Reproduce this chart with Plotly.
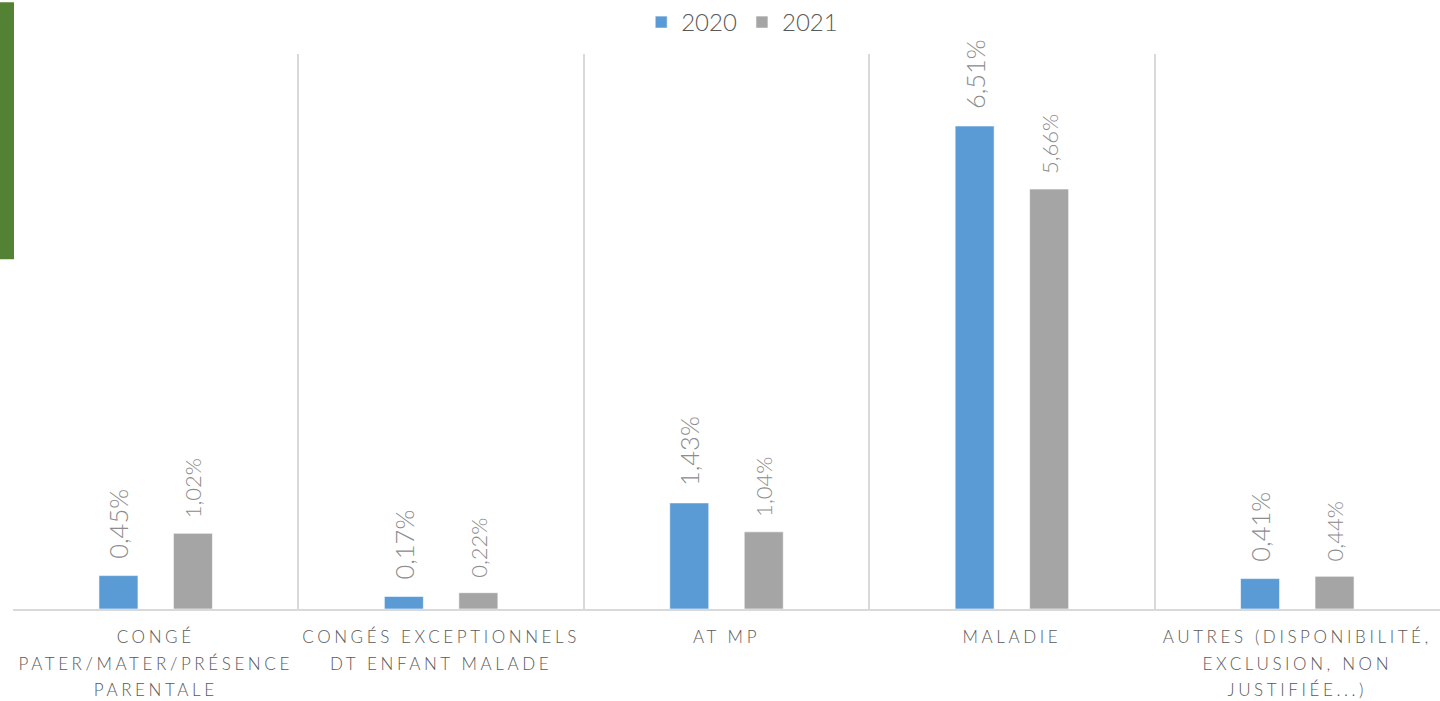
import plotly.graph_objects as go

# Absence categories (multi-line tick labels)
categories = [
    "CONGÉ<br>PATER/MATER/PRÉSENCE<br>PARENTALE",
    "CONGÉS EXCEPTIONNELS<br>DT ENFANT MALADE",
    "AT MP",
    "MALADIE",
    "AUTRES (DISPONIBILITÉ,<br>EXCLUSION, NON<br>JUSTIFIÉE...)",
]
rates_2020 = [0.45, 0.17, 1.43, 6.51, 0.41]
rates_2021 = [1.02, 0.22, 1.04, 5.66, 0.44]
years = ["2020", "2021"]
colors = ["#5B9BD5", "#A5A5A5"]
label_sizes = [25.5, 22]


def fr_pct(v):
    # French decimal comma; leading no-break spaces lift the label off the bar
    return "\u00a0\u00a0" + f"{v:.2f}".replace(".", ",") + "%"


fig = go.Figure()
for name, vals, col, lsize in zip(years, [rates_2020, rates_2021], colors, label_sizes):
    fig.add_trace(go.Bar(
        x=categories,
        y=vals,
        name=name,
        marker=dict(color=col, line=dict(color="white", width=0.6)),
        text=[fr_pct(v) for v in vals],
        textposition="outside",
        textangle=-90,
        constraintext="none",
        cliponaxis=False,
        textfont=dict(family="Lato, sans-serif", size=lsize, color="#8C8C8C", weight=300),
    ))

W, H = 1440, 701
ml, mr, mt, mb = 13, 0, 52, 92
pw = W - ml - mr
ph = H - mt - mb

fig.update_layout(
    width=W,
    height=H,
    margin=dict(l=ml, r=mr, t=mt, b=mb),
    paper_bgcolor="white",
    plot_bgcolor="white",
    barmode="group",
    bargap=0.478,
    bargroupgap=0.476,
    font=dict(family="Lato, sans-serif", color="#595959"),
    showlegend=True,
    legend=dict(
        orientation="h",
        x=0.511,
        xanchor="center",
        y=1 + 32 / ph,
        yanchor="middle",
        font=dict(size=24, color="#595959", weight=300),
        itemwidth=30,
        traceorder="normal",
    ),
    xaxis=dict(
        tickson="boundaries",
        showgrid=True,
        gridcolor="#D9D9D9",
        gridwidth=2,
        showline=True,
        linecolor="#D9D9D9",
        linewidth=2,
        ticks="",
        tickangle=0,
        ticklabelstandoff=12,
        tickfont=dict(size=17, color="#595959", weight=300),
        automargin=False,
    ),
    yaxis=dict(
        range=[0, 7.48],
        visible=False,
        showgrid=False,
        zeroline=False,
        fixedrange=True,
    ),
    shapes=[
        dict(
            type="rect",
            xref="paper",
            yref="paper",
            x0=-ml / pw,
            x1=1 / pw,
            y0=(ph - (258 - mt)) / ph,
            y1=(ph + mt) / ph,
            fillcolor="#548235",
            line=dict(width=0),
            layer="below",
        )
    ],
)

# Spaced-out capitals and looser line spacing on the category labels
post = """
document.querySelectorAll('.xtick text').forEach(function(t){
  t.style.letterSpacing = '3.6px';
  t.querySelectorAll('tspan.line').forEach(function(s, i){
    if (i > 0) { s.setAttribute('dy', (i * 1.55) + 'em'); }
  });
});
"""

fig.write_html("out.html", post_script=post)
